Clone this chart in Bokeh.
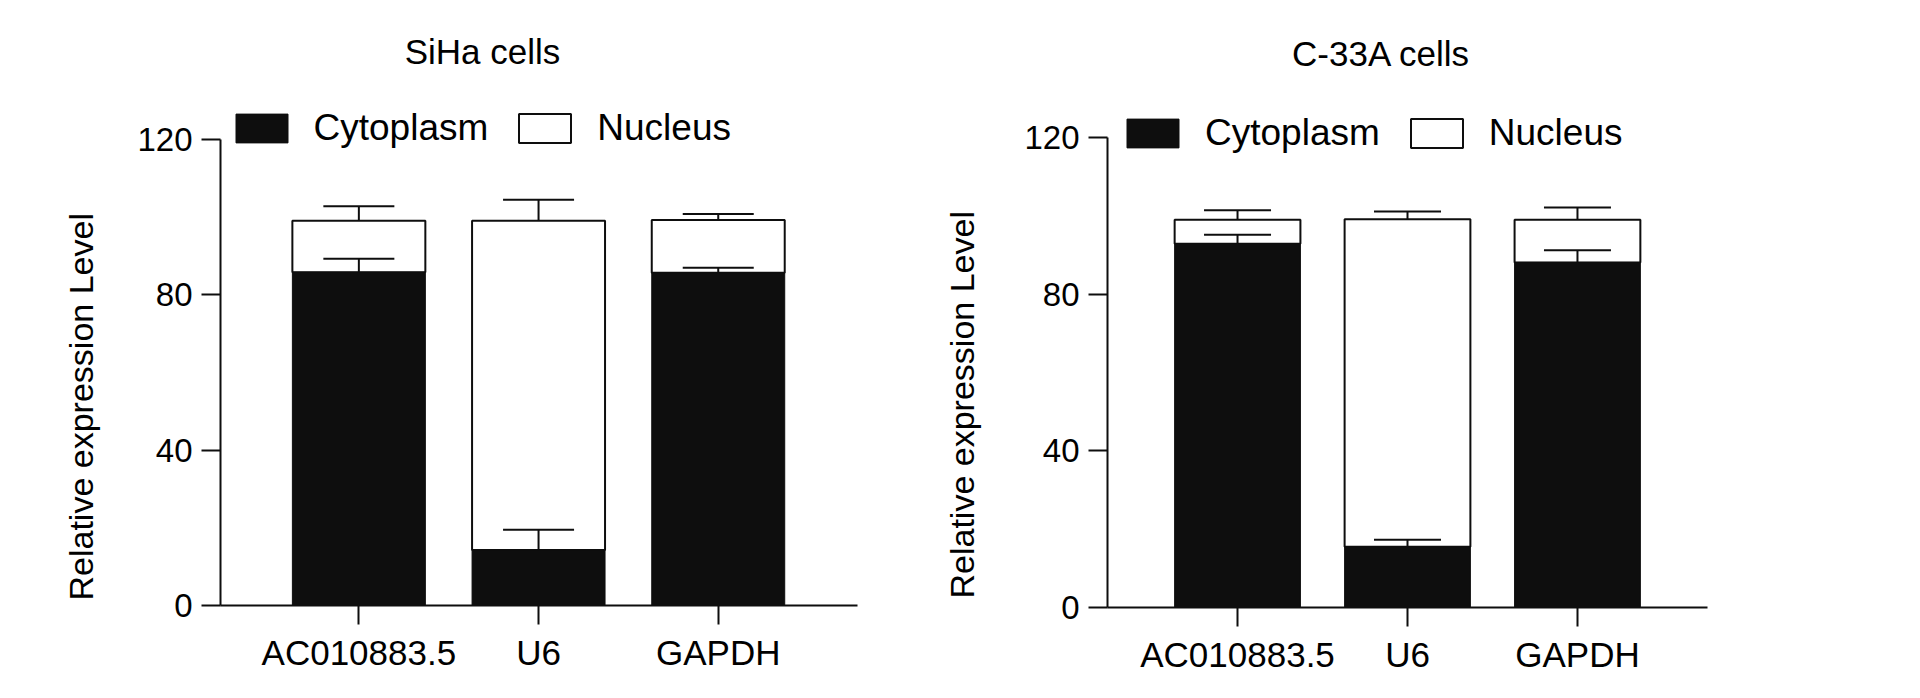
import numpy as np
from bokeh.plotting import figure
from bokeh.models import (ColumnDataSource, Whisker, TeeHead, Label, Legend, LegendItem,
                          Range1d, FixedTicker, Title)
from bokeh.layouts import row
from bokeh.embed import file_html
from bokeh.resources import INLINE

# ---------------- data ----------------
categories = ["AC010883.5", "U6", "GAPDH"]

siha_cyto = [85.8, 14.3, 85.7]
siha_cyto_err = [3.5, 5.2, 1.3]
siha_nuc = [13.3, 84.8, 13.6]
siha_nuc_err = [3.7, 5.4, 1.5]

c33a_cyto = [92.9, 15.5, 88.1]
c33a_cyto_err = [2.3, 1.8, 3.1]
c33a_nuc = [6.1, 83.6, 10.9]
c33a_nuc_err = [2.4, 2.0, 3.1]

y_ticks = [0, 40, 80, 120]
series_labels = ["Cytoplasm", "Nucleus"]
titles = ["SiHa cells", "C-33A cells"]
y_label = "Relative expression Level"

FONT = "Liberation Sans"
BLACK = "#0e0e0e"
ORIGIN = 0  # page offset of the layout


def panel(title, cyto, cyto_err, nuc, nuc_err, frame_left, frame_w, plot_top_px,
          frame_bottom_px, br, bb, x_lo, x_hi, cap, title_x, title_y,
          leg_x, leg_y, yl_standoff, yl_offset, fig_left):
    x = np.arange(len(categories))
    cyto = np.array(cyto, dtype=float)
    nuc = np.array(nuc, dtype=float)
    total = cyto + nuc
    src = ColumnDataSource(dict(
        x=x, cyto=cyto, total=total,
        cyto_up=cyto + np.array(cyto_err),
        total_up=total + np.array(nuc_err),
    ))
    fh = frame_bottom_px - ORIGIN
    px_per_unit = (frame_bottom_px - plot_top_px) / 120.0
    y_top = fh / px_per_unit
    p = figure(frame_width=frame_w, frame_height=fh,
               min_border_left=frame_left - fig_left, min_border_right=br,
               min_border_top=0, min_border_bottom=bb,
               x_range=Range1d(x_lo, x_hi), y_range=Range1d(0, y_top),
               output_backend="svg", toolbar_location=None, title=None)
    p.outline_line_color = None
    p.xgrid.visible = False
    p.ygrid.visible = False
    p.background_fill_color = "white"

    r_nuc = p.vbar(x="x", width=0.74, bottom="cyto", top="total", source=src,
                   fill_color="white", line_color=BLACK, line_width=2)
    r_cyto = p.vbar(x="x", width=0.74, bottom=0, top="cyto", source=src,
                    fill_color=BLACK, line_color=BLACK, line_width=1)

    for lo, up in (("cyto", "cyto_up"), ("total", "total_up")):
        w = Whisker(source=src, base="x", lower=lo, upper=up, dimension="height",
                    line_color=BLACK, line_width=2, level="annotation",
                    upper_head=TeeHead(size=cap, line_color=BLACK, line_width=2),
                    lower_head=None)
        p.add_layout(w)

    # axes
    p.xaxis.ticker = FixedTicker(ticks=list(range(len(categories))))
    p.xaxis.major_label_overrides = {i: c for i, c in enumerate(categories)}
    p.yaxis.ticker = FixedTicker(ticks=y_ticks)
    p.yaxis.bounds = (0, 120)
    for ax in (p.xaxis, p.yaxis):
        ax.axis_line_width = 2
        ax.axis_line_color = BLACK
        ax.major_tick_line_width = 2
        ax.major_tick_line_color = BLACK
        ax.major_tick_out = 19
        ax.major_tick_in = 0
        ax.minor_tick_line_color = None
        ax.major_label_text_font = FONT
        ax.major_label_text_color = "black"
    p.xaxis.major_label_text_font_size = "35px"
    p.xaxis.major_label_standoff = 8
    p.yaxis.major_label_text_font_size = "33px"
    p.yaxis.major_label_standoff = 9

    # title (inside the extended frame, above the y axis end)
    p.add_layout(Label(x=title_x, y=title_y, x_units="screen", y_units="screen",
                       text=title, text_font=FONT, text_font_size="35px",
                       text_color="black", text_align="center",
                       text_baseline="alphabetic"))
    # y axis label as a side title
    p.add_layout(Title(text=y_label, align="left", offset=yl_offset,
                       standoff=yl_standoff, text_font=FONT,
                       text_font_size="34px", text_color="black",
                       text_font_style="normal"), "left")
    # legend
    leg = Legend(items=[LegendItem(label=series_labels[0], renderers=[r_cyto]),
                        LegendItem(label=series_labels[1], renderers=[r_nuc])],
                 orientation="horizontal", location=(leg_x, leg_y),
                 glyph_width=65, glyph_height=36, label_standoff=20, spacing=24,
                 padding=0, margin=0, border_line_color=None,
                 background_fill_alpha=0, label_text_font=FONT,
                 label_text_font_size="37px", label_text_color="black")
    p.add_layout(leg)
    return p


W1_RIGHT = 30
p1 = panel(titles[0], siha_cyto, siha_cyto_err, siha_nuc, siha_nuc_err,
           frame_left=220, frame_w=637, plot_top_px=139, frame_bottom_px=605,
           br=W1_RIGHT, bb=80, x_lo=-0.77, x_hi=2.775, cap=71,
           title_x=262, title_y=554, leg_x=8.5, leg_y=456,
           yl_standoff=70, yl_offset=5, fig_left=ORIGIN)
w1 = 220 - ORIGIN + 637 + W1_RIGHT
p2 = panel(titles[1], c33a_cyto, c33a_cyto_err, c33a_nuc, c33a_nuc_err,
           frame_left=1107, frame_w=600, plot_top_px=137, frame_bottom_px=607,
           br=190, bb=78, x_lo=-0.765, x_hi=2.765, cap=67,
           title_x=274, title_y=554, leg_x=13, leg_y=453,
           yl_standoff=81, yl_offset=9, fig_left=ORIGIN + w1)

layout = row(p1, p2)
open("out.html", "w").write(file_html(layout, INLINE))
